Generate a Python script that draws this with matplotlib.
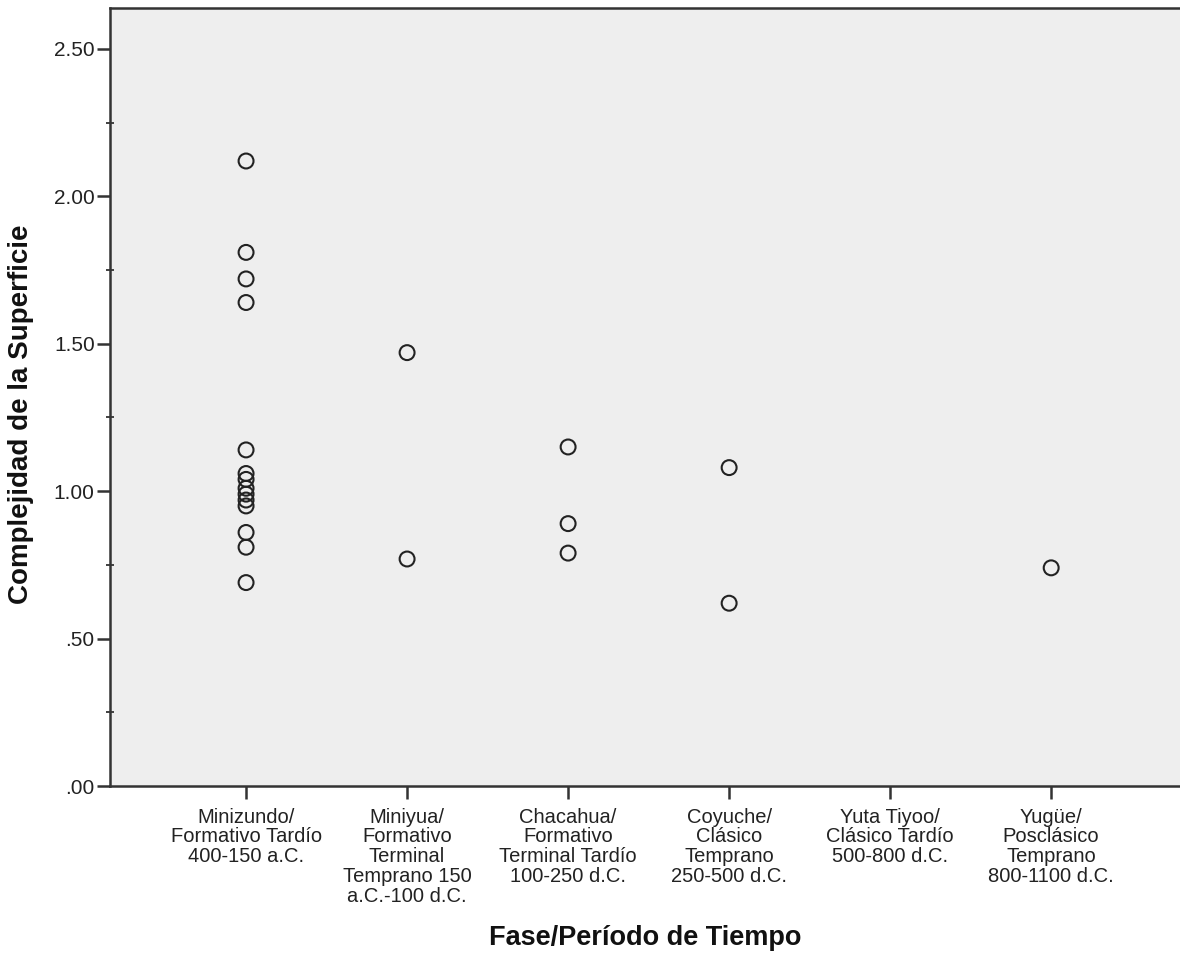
import matplotlib
matplotlib.use("Agg")
import matplotlib.pyplot as plt
from matplotlib.ticker import FixedLocator

plt.rcParams['font.family'] = ['Liberation Sans', 'DejaVu Sans']

categories = [
    "Minizundo/\nFormativo Tardío\n400-150 a.C.",
    "Miniyua/\nFormativo\nTerminal\nTemprano 150\na.C.-100 d.C.",
    "Chacahua/\nFormativo\nTerminal Tardío\n100-250 d.C.",
    "Coyuche/\nClásico\nTemprano\n250-500 d.C.",
    "Yuta Tiyoo/\nClásico Tardío\n500-800 d.C.",
    "Yugüe/\nPosclásico\nTemprano\n800-1100 d.C.",
]

vals_minizundo = [2.12, 1.81, 1.72, 1.64, 1.14, 1.06, 1.04, 1.01, 0.99, 0.97, 0.95, 0.86, 0.81, 0.69]
vals_miniyua = [1.47, 0.77]
vals_chacahua = [1.15, 0.89, 0.79]
vals_coyuche = [1.08, 0.62]
vals_yuta = []
vals_yugue = [0.74]
series = [vals_minizundo, vals_miniyua, vals_chacahua, vals_coyuche, vals_yuta, vals_yugue]

ytick_vals = [0.0, 0.5, 1.0, 1.5, 2.0, 2.5]
ytick_labels = [".00", ".50", "1.00", "1.50", "2.00", "2.50"]
yminor_vals = [0.25, 0.75, 1.25, 1.75, 2.25]

fig = plt.figure(figsize=(11.8, 9.59), dpi=100)
ax = fig.add_axes([110/1180, (959-786)/959, (1180-110)/1180, (786-8)/959])
ax.set_facecolor('#EEEEEE')

for i, vals in enumerate(series):
    if vals:
        ax.scatter([i]*len(vals), vals, s=115, facecolors='none',
                   edgecolors='#222222', linewidths=1.5, zorder=3)

ax.set_xlim(-0.845, 5.80)
ax.set_ylim(0, 2.639)

ax.set_xticks(range(len(categories)))
ax.set_xticklabels(categories, fontsize=14.5, linespacing=1.05, color='#222222')
ax.set_yticks(ytick_vals)
ax.set_yticklabels(ytick_labels, fontsize=15, color='#222222')
ax.yaxis.set_minor_locator(FixedLocator(yminor_vals))

ax.tick_params(axis='both', which='major', direction='out', length=9.5, width=1.8, color='#333333')
ax.tick_params(axis='x', which='major', pad=6)
ax.tick_params(axis='y', which='major', pad=1.5)
ax.tick_params(axis='y', which='minor', direction='inout', length=6, width=1.3, color='#333333')

for side in ['left', 'bottom', 'top']:
    ax.spines[side].set_linewidth(1.8)
    ax.spines[side].set_color('#333333')
ax.spines['right'].set_visible(False)

ax.set_ylabel("Complejidad de la Superficie", fontsize=20, fontweight='bold', color='#111111')
ax.yaxis.set_label_coords(-0.071, 0.478)
ax.set_xlabel("Fase/Período de Tiempo", fontsize=19.5, fontweight='bold', labelpad=14, color='#111111')

fig.savefig("out.png", dpi=100, facecolor='white')
